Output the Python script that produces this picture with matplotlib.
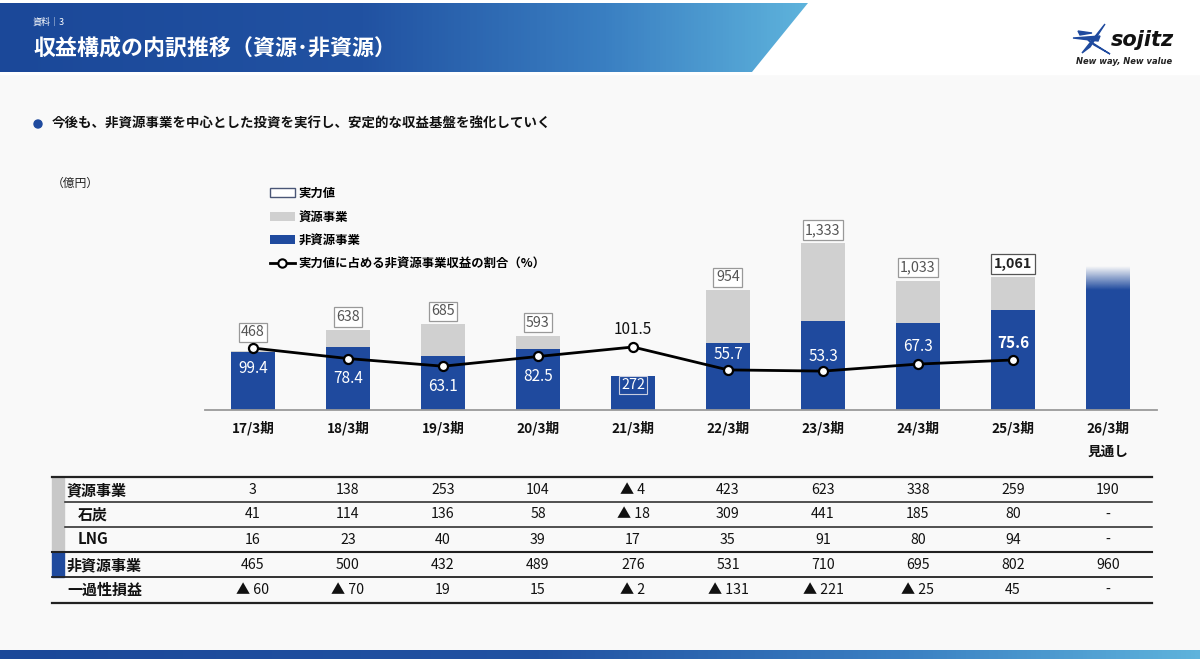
import matplotlib
matplotlib.use("Agg")
import matplotlib.pyplot as plt
import numpy as np
from matplotlib.patches import Polygon, Rectangle, Circle, Patch
from matplotlib.lines import Line2D
from matplotlib.colors import LinearSegmentedColormap, to_rgb
from matplotlib import transforms

plt.rcParams['font.family'] = ['Noto Sans CJK JP', 'DejaVu Sans']

# --- données (億円) ---
periods = ['17/3期', '18/3期', '19/3期', '20/3期', '21/3期',
           '22/3期', '23/3期', '24/3期', '25/3期', '26/3期\n見通し']
resource = [3, 138, 253, 104, -4, 423, 623, 338, 259, 190]
coal = [41, 114, 136, 58, -18, 309, 441, 185, 80, None]
lng = [16, 23, 40, 39, 17, 35, 91, 80, 94, None]
non_resource = [465, 500, 432, 489, 276, 531, 710, 695, 802, 960]
one_off = [-60, -70, 19, 15, -2, -131, -221, -25, 45, None]
ratio = [99.4, 78.4, 63.1, 82.5, 101.5, 55.7, 53.3, 67.3, 75.6]

BLUE = '#1f4a9e'
GRAY = '#d0d0d0'
BG = '#f9f9f9'

PX = 1 / 1.389  # pixels -> points


def fmt(v):
    if v is None:
        return '-'
    if v < 0:
        return '▲ ' + str(-v)
    return str(v)


fig = plt.figure(figsize=(12, 6.59), dpi=100, facecolor=BG)

# fond en coordonnées pixels
bg = fig.add_axes([0, 0, 1, 1], zorder=0)
bg.set_xlim(0, 1200)
bg.set_ylim(659, 0)
bg.axis('off')

cmap_h = LinearSegmentedColormap.from_list(
    'h', [(0, '#1b4899'), (0.45, '#2152a2'), (0.75, '#3a7fc2'), (1, '#5eb3dc')])
bg.add_patch(Rectangle((0, 0), 1200, 74, color='white', zorder=0))
band = Polygon([(0, 3), (808, 3), (752, 72), (0, 72)], closed=True, fc='none', ec='none')
bg.add_patch(band)
im = bg.imshow(np.linspace(0, 1, 256)[None, :], extent=(0, 808, 72, 3), cmap=cmap_h,
               aspect='auto', zorder=1)
im.set_clip_path(band)
bg.set_xlim(0, 1200)
bg.set_ylim(659, 0)

bg.text(33, 22, '資料｜3', color='white', fontsize=6.5, va='center')
bg.text(33, 48, '収益構成の内訳推移（資源･非資源）', color='white', fontsize=15.8,
        fontweight='bold', va='center')

# logo
bg.add_patch(Polygon([(1082, 53), (1105, 24), (1090, 47)], closed=True, color=BLUE, zorder=2))
bg.add_patch(Polygon([(1073, 38), (1100, 36), (1098, 41)], closed=True, color=BLUE, zorder=2))
bg.add_patch(Polygon([(1088, 40), (1110, 54), (1094, 45)], closed=True, color=BLUE, zorder=2))
bg.add_patch(Polygon([(1078, 31), (1092, 33), (1080, 35)], closed=True, color=BLUE, zorder=2))
bg.text(1111, 40, 'sojitz', fontsize=15, fontweight='bold', style='italic',
        color='#111111', va='center', family='DejaVu Sans')
bg.text(1124, 62, 'New way, New value', fontsize=6, fontweight='bold', style='italic',
        color='#222222', va='center', ha='center', family='DejaVu Sans')

# bullet
bg.add_patch(Circle((38, 124), 4, color=BLUE))
bg.text(52, 124, '今後も、非資源事業を中心とした投資を実行し、安定的な収益基盤を強化していく',
        fontsize=9.7, fontweight='bold', va='center', color='#111111')

bg.text(52, 183, '（億円）', fontsize=8.5, va='center', ha='left', color='#222222')

# bande du bas
im2 = bg.imshow(np.linspace(0, 1, 256)[None, :], extent=(0, 1200, 659, 650), cmap=cmap_h,
                aspect='auto', zorder=1)
bg.set_xlim(0, 1200)
bg.set_ylim(659, 0)

# --- graphique ---
ax = fig.add_axes([205 / 1200, (659 - 410) / 659, (1157 - 205) / 1200, 230 / 659], zorder=2)
ax.patch.set_alpha(0)
x = np.arange(len(periods))
w = 0.455

blue_h = [n if r >= 0 else n + r for r, n in zip(resource, non_resource)]
gray_h = [max(r, 0) for r in resource]
totals = [r + n for r, n in zip(resource, non_resource)]

ax.bar(x, blue_h, w, color=BLUE, zorder=2)
ax.bar(x[:-1], gray_h[:-1], w, bottom=blue_h[:-1], color=GRAY, zorder=2)

# dégradé de la prévision
fade = np.zeros((64, 1, 4))
fade[..., :3] = to_rgb(BLUE)
fade[:, 0, 3] = np.linspace(1, 0, 64)
ax.imshow(fade, extent=(x[-1] - w / 2, x[-1] + w / 2, blue_h[-1], blue_h[-1] + gray_h[-1]),
          origin='lower', aspect='auto', zorder=2)

ax.set_xlim(-0.505, 9.516)
ax.set_ylim(0, 1835.6)
for s in ['top', 'left', 'right']:
    ax.spines[s].set_visible(False)
ax.spines['bottom'].set_color('#9a9a9a')
ax.spines['bottom'].set_linewidth(1.3)
ax.set_yticks([])
ax.set_xticks(x)
ax.set_xticklabels(periods, fontsize=9.8, fontweight='bold', color='#111111', linespacing=1.85)
ax.tick_params(axis='x', length=0, pad=11 * PX)

# étiquettes des totaux
for i in range(len(periods) - 1):
    t = totals[i]
    if resource[i] < 0:
        ax.annotate(f'{t:,}', (x[i], t), xytext=(0, -9 * PX), textcoords='offset points',
                    ha='center', va='center', fontsize=10.3, color='white', zorder=4,
                    bbox=dict(boxstyle='square,pad=0.15', fc='none', ec='#c8cde0', lw=0.8))
        continue
    off = 19 if i == 0 else 13
    bold = i == len(periods) - 2
    ax.annotate(f'{t:,}', (x[i], t), xytext=(0, off * PX), textcoords='offset points',
                ha='center', va='center', fontsize=10.3, zorder=4,
                color='#222222' if bold else '#555555',
                fontweight='bold' if bold else 'normal',
                bbox=dict(boxstyle='square,pad=0.18', fc='white',
                          ec='#555555' if bold else '#999999', lw=0.9))

# ligne du ratio
ax2 = ax.twinx()
ax2.set_ylim(-24.5, 435.5)
ax2.axis('off')
xr = x[:len(ratio)]
ax2.plot(xr, ratio, color='black', lw=2, marker='o', ms=6.5, mfc='white', mec='black',
         mew=1.6, zorder=5)
offsets = [-20, -20, -20, -20, 18, 15, 15, 18, 17]
for i, v in enumerate(ratio):
    inside = i != 4
    ax2.annotate(f'{v}', (xr[i], v), xytext=(0, offsets[i] * PX), textcoords='offset points',
                 ha='center', va='center', fontsize=11,
                 color='white' if inside else '#111111',
                 fontweight='bold' if i == len(ratio) - 1 else 'normal')

# légende
handles = [Patch(fc='white', ec='#4a5676', lw=1),
           Patch(fc=GRAY, ec='none'),
           Patch(fc=BLUE, ec='none'),
           Line2D([], [], color='black', lw=2, marker='o', ms=6, mfc='white', mec='black', mew=1.5)]
labels = ['実力値', '資源事業', '非資源事業', '実力値に占める非資源事業収益の割合（%）']
fig.legend(handles, labels, loc='upper left', bbox_to_anchor=(270 / 1200, 1 - 187 / 659),
           frameon=False, borderpad=0, borderaxespad=0, handlelength=2.0, handleheight=0.7,
           handletextpad=0.3, labelspacing=0.85,
           prop={'weight': 'bold', 'size': 8.9, 'family': ['Noto Sans CJK JP', 'DejaVu Sans']})

# --- tableau ---
tr = transforms.blended_transform_factory(ax.transData, bg.transData)
rows = [('資源事業', resource, 67), ('石炭', coal, 78), ('LNG', lng, 78),
        ('非資源事業', non_resource, 67), ('一過性損益', one_off, 67)]
row_y = [490, 514.5, 539.5, 565, 590]
for (name, vals, lx), ry in zip(rows, row_y):
    bg.text(lx, ry, name, fontsize=10.8, fontweight='bold', va='center', color='#111111')
    for i, v in enumerate(vals):
        ax.text(x[i], ry, fmt(v), transform=tr, ha='center', va='center', fontsize=10.2,
                color='#111111', clip_on=False)

bg.add_patch(Rectangle((52, 477), 12, 75, color='#c8c8c8', zorder=2))
bg.add_patch(Rectangle((52, 552), 12, 25, color=BLUE, zorder=2))
for yl, x0, lw in [(477, 52, 1.6), (502, 65, 1.1), (527, 65, 1.1), (552, 52, 1.5),
                   (577, 52, 1.3), (603, 52, 1.6)]:
    bg.plot([x0, 1152], [yl, yl], color='#222222', lw=lw, zorder=3)
bg.set_xlim(0, 1200)
bg.set_ylim(659, 0)

fig.savefig('out.png', dpi=100, facecolor=BG)
